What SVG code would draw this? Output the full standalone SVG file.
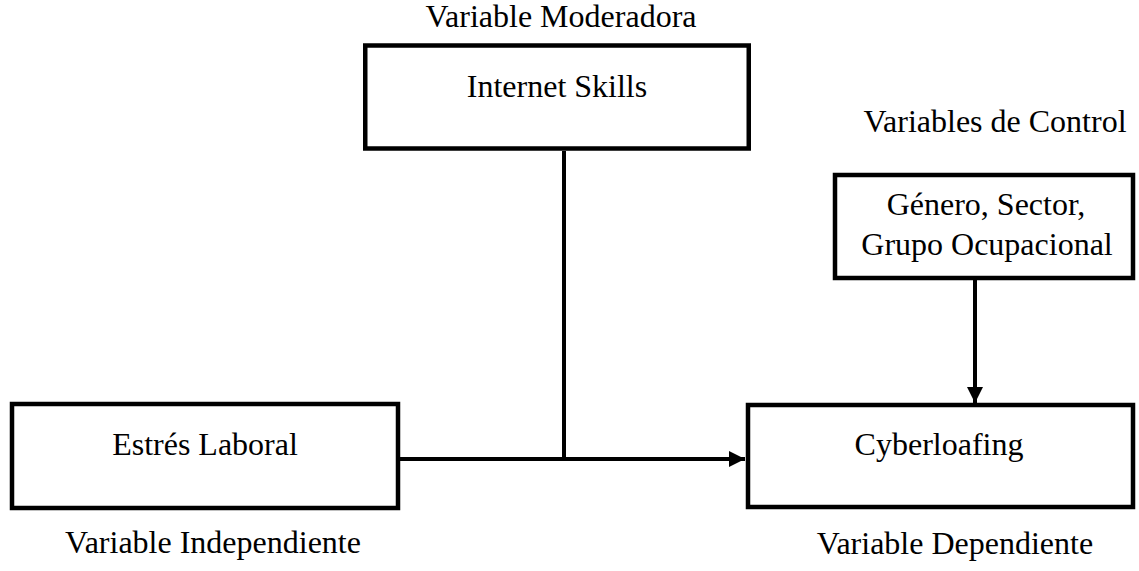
<svg xmlns="http://www.w3.org/2000/svg" width="1139" height="571" viewBox="0 0 1139 571">
<style>
.box{fill:#fff;stroke:#000;stroke-width:4.5}
.t{font-family:"Liberation Serif","Times New Roman",serif;font-size:32px;fill:#000;text-anchor:middle}
.ln{fill:none;stroke:#000;stroke-width:4}
</style>
<defs>
<marker id="ah" markerUnits="userSpaceOnUse" markerWidth="18" markerHeight="18" refX="16" refY="8" orient="auto">
<path d="M0,0 L16,8 L0,16 Z" fill="#000"/>
</marker>
</defs>
<rect width="1139" height="571" fill="#fff"/>
<g id="connectors">
<path class="ln" d="M564,151 L564,459"/>
<path class="ln" d="M400,459 L745,459" marker-end="url(#ah)"/>
<path class="ln" d="M975,280 L975,403" marker-end="url(#ah)"/>
</g>
<g id="internet-skills">
<text class="t" x="561" y="27">Variable Moderadora</text>
<rect class="box" x="365.25" y="45.5" width="383.5" height="103"/>
<text class="t" x="557" y="97">Internet Skills</text>
</g>
<g id="control">
<text class="t" x="995" y="132">Variables de Control</text>
<rect class="box" x="835" y="175" width="298" height="103"/>
<text class="t" x="986" y="215">Género, Sector,</text>
<text class="t" x="987" y="255">Grupo Ocupacional</text>
</g>
<g id="estres">
<rect class="box" x="12" y="404" width="386" height="104"/>
<text class="t" x="205" y="455">Estrés Laboral</text>
<text class="t" x="213" y="553">Variable Independiente</text>
</g>
<g id="cyberloafing">
<rect class="box" x="748" y="405" width="385" height="102"/>
<text class="t" x="939" y="455">Cyberloafing</text>
<text class="t" x="955" y="554">Variable Dependiente</text>
</g>
</svg>
